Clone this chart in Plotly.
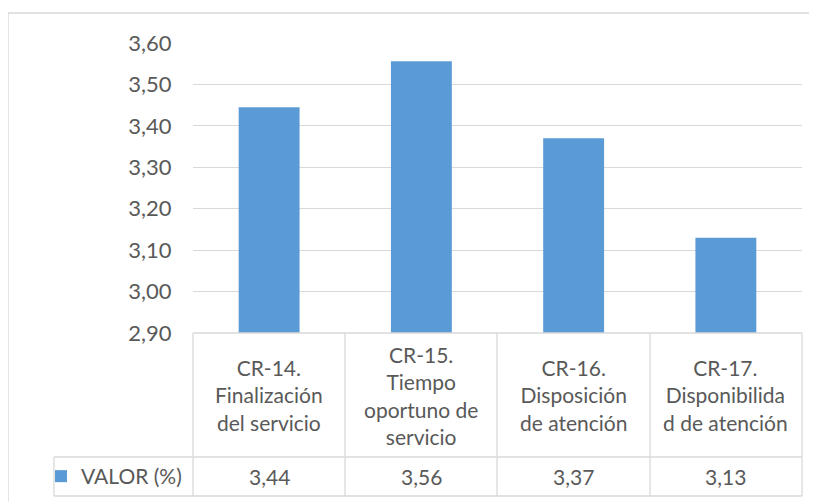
import plotly.graph_objects as go

categories = ["CR-14.", "CR-15.", "CR-16.", "CR-17."]
category_labels = [
    "CR-14.<br>Finalización<br>del servicio",
    "CR-15.<br>Tiempo<br>oportuno de<br>servicio",
    "CR-16.<br>Disposición<br>de atención",
    "CR-17.<br>Disponibilida<br>d de atención",
]
values = [3.445, 3.556, 3.370, 3.130]
value_labels = ["3,44", "3,56", "3,37", "3,13"]
series_name = "VALOR (%)"
y_ticks = [2.90, 3.00, 3.10, 3.20, 3.30, 3.40, 3.50, 3.60]

W, H = 817, 502
OFF = 8  # page offset of the figure inside the browser window
TEXT = "#595959"
GRID = "#D9D9D9"
FONT = "Lato"
FS = 21

def px(x):
    return (x - OFF) / W

def py(y):
    return (H - (y - OFF)) / H

# plot area geometry (screen pixels)
X0, X1 = 193, 802
YTOP, YBOT = 43, 333
ROW1, ROW2 = 457, 496

fig = go.Figure()
fig.add_trace(go.Bar(
    x=categories, y=values, name=series_name,
    marker=dict(color="#5B9BD5", line=dict(width=0)),
    showlegend=True,
))

shapes = []
# outer chart border
shapes.append(dict(type="rect", xref="paper", yref="paper",
                   x0=px(8), x1=px(W + 20), y0=py(H + 20), y1=py(13),
                   line=dict(color=GRID, width=1.3), layer="below"))
# data table lines
col_edges = [193, 345, 497, 650, 802]
for cx in col_edges:
    shapes.append(dict(type="line", xref="paper", yref="paper",
                       x0=px(cx), x1=px(cx), y0=py(YBOT), y1=py(ROW2),
                       line=dict(color=GRID, width=1.3)))
shapes.append(dict(type="line", xref="paper", yref="paper",
                   x0=px(54), x1=px(54), y0=py(ROW1), y1=py(ROW2),
                   line=dict(color=GRID, width=1.3)))
shapes.append(dict(type="line", xref="paper", yref="paper",
                   x0=px(X0), x1=px(X1), y0=py(YBOT), y1=py(YBOT),
                   line=dict(color=GRID, width=1.3)))
for ry in (ROW1, ROW2):
    shapes.append(dict(type="line", xref="paper", yref="paper",
                       x0=px(54), x1=px(X1), y0=py(ry), y1=py(ry),
                       line=dict(color=GRID, width=1.3)))

annotations = []
for cat, lab, vl in zip(categories, category_labels, value_labels):
    annotations.append(dict(x=cat, xref="x", y=py(395), yref="paper",
                            text=lab, showarrow=False, align="center",
                            xanchor="center", yanchor="middle",
                            font=dict(family=FONT, size=FS, color=TEXT)))
    annotations.append(dict(x=cat, xref="x", y=py(476.5), yref="paper",
                            text=vl, showarrow=False,
                            xanchor="center", yanchor="middle",
                            font=dict(family=FONT, size=FS, color=TEXT)))

fig.update_layout(
    width=W, height=H,
    margin=dict(l=0, r=0, t=0, b=0, autoexpand=False),
    paper_bgcolor="white", plot_bgcolor="white",
    separators=",.",
    bargap=0.6,
    font=dict(family=FONT, size=FS, color=TEXT),
    xaxis=dict(domain=[px(X0), px(X1)], showticklabels=False,
               showgrid=False, zeroline=False, showline=False,
               fixedrange=True),
    yaxis=dict(domain=[py(YBOT), py(YTOP)], range=[2.90, 3.60],
               tickvals=y_ticks, tickformat=".2f",
               showgrid=True, gridcolor=GRID, gridwidth=1.3,
               zeroline=False, showline=False,
               ticks="outside", ticklen=16, tickcolor="rgba(0,0,0,0)",
               tickfont=dict(family=FONT, size=22, color=TEXT)),
    legend=dict(x=px(41), xanchor="left", y=py(476.5), yanchor="middle",
                bgcolor="rgba(0,0,0,0)", borderwidth=0,
                font=dict(family=FONT, size=FS, color=TEXT)),
    shapes=shapes,
    annotations=annotations,
)

fig.write_html("out.html")
